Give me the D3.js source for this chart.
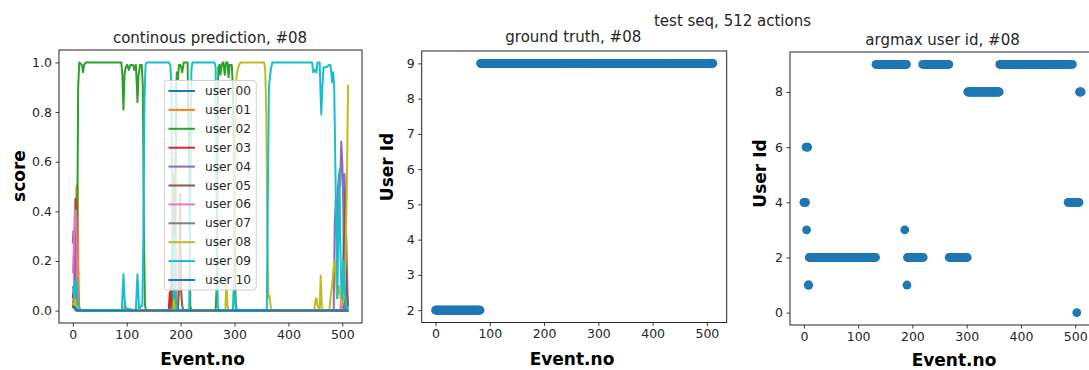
<!DOCTYPE html>
<html>
<head>
<meta charset="utf-8">
<script src="https://cdn.jsdelivr.net/npm/d3@7"></script>
<style>
  html, body { margin: 0; padding: 0; background: #fff; }
  svg { display: block; font-family: "DejaVu Sans", sans-serif; }
</style>
</head>
<body>
<svg id="chart" width="1089" height="370"></svg>
<script>
// ---- data -------------------------------------------------------------
const suptitleText = "test seq, 512 actions";
const panelTitles = ["continous prediction, #08", "ground truth, #08", "argmax user id, #08"];
const userNames = ["user 00", "user 01", "user 02", "user 03", "user 04", "user 05",
                   "user 06", "user 07", "user 08", "user 09", "user 10"];
const userColors = ["#1f77b4", "#ff7f0e", "#2ca02c", "#d62728", "#9467bd", "#8c564b",
                    "#e377c2", "#7f7f7f", "#bcbd22", "#17becf", "#1f77b4"];
const eventCount = 512;

// per-user score knots [event, score]
const user00 = [[0,0.05],[2,0.08],[4,0.02],[7,0],[500,0],[502,0.2],[503,0.45],[504,0.1],[506,0],[511,0]];
const user01 = [[0,0.02],[4,0.1],[6,0.4],[7,0.5],[8,0.506],[9,0.5],[10,0.2],[12,0.01],[15,0],[183,0],[185,0.1],[187,0.25],[189,0.45],[190,0.62],[191,0.3],[193,0.02],[195,0],[511,0]];
const user02 = [[0,0.02],[3,0.01],[6,0.05],[8,0.3],[9,0.55],[10,0.9],[12,1.0],[17,0.99],[19,0.96],[21,0.99],[24,1.0],[90,1.0],[92,0.95],[94,0.81],[96,0.95],[98,0.98],[101,0.99],[104,0.97],[107,0.99],[112,0.99],[114,0.97],[117,0.99],[119,0.9],[120,0.84],[122,0.95],[125,0.99],[128,0.99],[130,0.9],[132,0.3],[134,0.02],[136,0],[182,0],[184,0.1],[186,0],[188,0],[190,0.3],[192,0.9],[193,0.96],[195,0.93],[197,0.99],[200,0.99],[203,0.96],[206,1.0],[213,1.0],[216,0.6],[218,0.02],[220,0],[265,0],[267,0.1],[268,0.6],[270,0.98],[272,0.99],[274,0.95],[276,0.99],[279,1.0],[282,0.95],[284,1.0],[287,1.0],[289,0.94],[291,0.99],[295,0.99],[297,0.9],[300,0.5],[302,0.05],[304,0],[511,0]];
const user03 = [[0,0.05],[3,0.1],[5,0.45],[6,0.1],[8,0.02],[10,0],[178,0],[180,0.074],[182,0.02],[185,0.3],[186,0.55],[187,0.2],[189,0.02],[191,0],[511,0]];
const user04 = [[0,0.27],[1,0.32],[2,0.3],[3,0.25],[4,0.1],[6,0.05],[9,0.01],[12,0],[484,0],[486,0.35],[488,0.45],[490,0.3],[492,0.5],[494,0.55],[496,0.5],[498,0.68],[500,0.6],[502,0.4],[503,0.3],[504,0.55],[506,0.45],[508,0.2],[510,0.05],[511,0.02]];
const user05 = [[0,0.01],[5,0.05],[7,0.1],[9,0.02],[11,0],[195,0],[197,0.08],[199,0.47],[201,0.08],[203,0.02],[205,0],[502,0],[504,0.3],[506,0.49],[508,0.1],[510,0],[511,0]];
const user06 = [[0,0.15],[2,0.25],[3,0.35],[4,0.405],[5,0.38],[6,0.4],[7,0.3],[8,0.1],[10,0.02],[13,0],[496,0],[498,0.04],[500,0.01],[502,0],[511,0]];
const user07 = [[0,0.02],[4,0.08],[6,0.05],[10,0],[511,0]];
const user08 = [[0,0.03],[2,0.02],[4,0.05],[6,0.02],[10,0.01],[13,0],[95,0],[97,0.04],[99,0],[121,0],[123,0.03],[125,0],[186,0],[188,0.05],[190,0],[283,0],[285,0.135],[287,0.02],[289,0],[298,0],[300,0.4],[302,0.8],[304,0.95],[307,0.98],[311,1.0],[355,1.0],[357,0.97],[359,0.8],[361,0.3],[363,0.05],[365,0.06],[367,0.02],[369,0],[448,0],[450,0.04],[452,0.05],[454,0.02],[458,0],[460,0.14],[462,0.02],[464,0],[476,0],[478,0.05],[481,0.1],[484,0.18],[486,0.2],[488,0.15],[490,0.05],[494,0.1],[497,0.05],[500,0.02],[503,0.05],[506,0.2],[508,0.45],[509,0.6],[510,0.8],[511,0.91]];
const user09 = [[0,0.1],[3,0.05],[5,0.12],[7,0.13],[9,0.05],[11,0.02],[14,0],[91,0],[94,0.146],[97,0.01],[117,0],[120,0.146],[123,0.01],[129,0.02],[131,0.3],[133,0.85],[135,0.99],[137,1.0],[178,1.0],[181,0.99],[183,0.9],[185,0.3],[187,0.05],[189,0.3],[191,0.05],[193,0],[216,0],[218,0.4],[220,0.97],[222,1.0],[263,1.0],[265,0.98],[267,0.4],[269,0.02],[271,0],[297,0],[299,0.1],[301,0.05],[303,0],[360,0],[362,0.5],[364,0.9],[367,0.965],[370,1.0],[444,1.0],[446,0.96],[449,0.97],[452,0.96],[454,1.0],[458,1.0],[460,0.85],[461,0.79],[463,0.9],[465,0.98],[470,0.98],[476,0.99],[478,0.99],[480,0.95],[481,0.92],[483,0.96],[485,0.9],[487,0.6],[489,0.3],[491,0.05],[493,0.4],[495,0.57],[496,0.3],[498,0.1],[500,0.05],[502,0.2],[504,0.1],[507,0.02],[511,0]];
const user10 = [[0,0.02],[3,0.01],[6,0],[511,0]];
const scoreSeries = [user00, user01, user02, user03, user04, user05, user06, user07, user08, user09, user10];

// ground-truth user id runs [firstEvent, lastEvent, userId]
const truthRuns = [[0,82,2],[83,511,9]];
// argmax user id runs [firstEvent, lastEvent, userId]
const argmaxRuns = [
  [0,3,4],[4,4,6],[5,5,3],[6,7,6],[8,9,1],[10,132,2],[133,185,9],[186,186,3],[187,189,9],
  [190,190,1],[191,218,2],[219,219,9],[220,220,2],[221,267,9],[268,301,2],[302,360,8],
  [361,486,9],[487,487,4],[488,488,9],[489,490,4],[491,491,9],[492,492,4],[493,493,9],
  [494,494,4],[495,495,9],[496,502,4],[503,503,0],[504,507,4],[508,511,8]
];

const scoreTicks = [0.0, 0.2, 0.4, 0.6, 0.8, 1.0];
const eventTicks = [0, 100, 200, 300, 400, 500];
const truthTicks = [2, 3, 4, 5, 6, 7, 8, 9];
const argmaxTicks = [0, 2, 4, 6, 8];

// ---- drawing ----------------------------------------------------------
const svg = d3.select("#chart");
const ink = "#262626";
const tickFont = "12.5px";

function expandRuns(runs) {
  const pts = [];
  runs.forEach(([a, b, id]) => { for (let e = a; e <= b; e++) pts.push([e, id]); });
  return pts;
}

function frame(g, x, y, xTicks, yTicks, yFmt) {
  const [x0, x1] = x.range();
  const [y0, y1] = y.range();
  const xa = g.append("g").attr("transform", `translate(0,${y0})`)
    .call(d3.axisBottom(x).tickValues(xTicks).tickSize(3.5).tickPadding(3.5).tickFormat(d3.format("d")));
  const ya = g.append("g").attr("transform", `translate(${x0},0)`)
    .call(d3.axisLeft(y).tickValues(yTicks).tickSize(3.5).tickPadding(3.5).tickFormat(yFmt));
  [xa, ya].forEach(a => {
    a.select(".domain").remove();
    a.selectAll("line").attr("stroke", ink).attr("stroke-width", 0.9);
    a.selectAll("text").attr("fill", ink).style("font-size", tickFont).style("font-family", "DejaVu Sans");
  });
  g.append("rect").attr("x", x0).attr("y", y1).attr("width", x1 - x0).attr("height", y0 - y1)
    .attr("fill", "none").attr("stroke", ink).attr("stroke-width", 1);
}

function label(txt, cx, cy, rotate, opts) {
  const t = svg.append("text").text(txt)
    .attr("text-anchor", "middle")
    .attr("fill", opts.color || ink)
    .style("font-size", opts.size)
    .style("font-weight", opts.weight || "normal");
  if (rotate) {
    t.attr("dominant-baseline", "central").attr("transform", `translate(${cx},${cy}) rotate(-90)`);
  } else {
    t.attr("x", cx).attr("y", cy);
  }
  return t;
}

// title
label(suptitleText, 732.5, 26, false, { size: "15px" });

// panel 1: continuous scores
{
  const x = d3.scaleLinear().domain([-25.55, 536.55]).range([59, 362]);
  const y = d3.scaleLinear().domain([-0.05, 1.05]).range([323, 50]);
  const g = svg.append("g");
  svg.append("clipPath").attr("id", "clipA").append("rect")
    .attr("x", 59).attr("y", 50).attr("width", 303).attr("height", 273);
  const line = d3.line().x(d => x(d[0])).y(d => y(d[1]));
  g.append("g").attr("clip-path", "url(#clipA)").selectAll("path").data(scoreSeries).join("path")
    .attr("d", line).attr("fill", "none")
    .attr("stroke", (d, i) => userColors[i]).attr("stroke-width", 2)
    .attr("stroke-linejoin", "round");
  frame(g, x, y, eventTicks, scoreTicks, d3.format(".1f"));

  // legend
  const lg = g.append("g");
  const lx = 164.3, ly = 80.5, rowH = 18.9;
  lg.append("rect").attr("x", lx).attr("y", ly).attr("width", 92).attr("height", 209.5).attr("rx", 3)
    .attr("fill", "#fff").attr("fill-opacity", 0.8).attr("stroke", "#d0d0d0").attr("stroke-width", 1);
  const rows = lg.selectAll("g.row").data(userNames).join("g").attr("class", "row")
    .attr("transform", (d, i) => `translate(0,${ly + 10.5 + i * rowH})`);
  rows.append("line").attr("x1", lx + 4.2).attr("x2", lx + 30.7)
    .attr("stroke", (d, i) => userColors[i]).attr("stroke-width", 2);
  rows.append("text").text(d => d).attr("x", lx + 40.7).attr("dominant-baseline", "central")
    .attr("fill", ink).style("font-size", "12.2px");

  label(panelTitles[0], 210, 43, false, { size: "15px" });
  label("score", 19, 176, true, { size: "17px", weight: "bold", color: "#000" });
  label("Event.no", 202.5, 364.5, false, { size: "17px", weight: "bold", color: "#000" });
}

// panel 2: ground truth
{
  const x = d3.scaleLinear().domain([-25.55, 536.55]).range([421.7, 726.7]);
  const y = d3.scaleLinear().domain([1.65, 9.35]).range([322.5, 51]);
  const g = svg.append("g");
  g.append("g").selectAll("circle").data(expandRuns(truthRuns)).join("circle")
    .attr("cx", d => x(d[0])).attr("cy", d => y(d[1])).attr("r", 4.4).attr("fill", "#1f77b4");
  frame(g, x, y, eventTicks, truthTicks, d3.format("d"));
  label(panelTitles[1], 573.3, 42.3, false, { size: "15px" });
  label("User Id", 387, 167, true, { size: "17px", weight: "bold", color: "#000" });
  label("Event.no", 572, 364.5, false, { size: "17px", weight: "bold", color: "#000" });
}

// panel 3: argmax user id
{
  const x = d3.scaleLinear().domain([-25.55, 536.55]).range([790, 1095]);
  const y = d3.scaleLinear().domain([-0.45, 9.45]).range([325, 52]);
  const g = svg.append("g");
  g.append("g").selectAll("circle").data(expandRuns(argmaxRuns)).join("circle")
    .attr("cx", d => x(d[0])).attr("cy", d => y(d[1])).attr("r", 4.4).attr("fill", "#1f77b4");
  frame(g, x, y, eventTicks, argmaxTicks, d3.format("d"));
  label(panelTitles[2], 942.5, 45, false, { size: "15px" });
  label("User Id", 760, 173.5, true, { size: "17px", weight: "bold", color: "#000" });
  label("Event.no", 954, 366, false, { size: "17px", weight: "bold", color: "#000" });
}
</script>
</body>
</html>
